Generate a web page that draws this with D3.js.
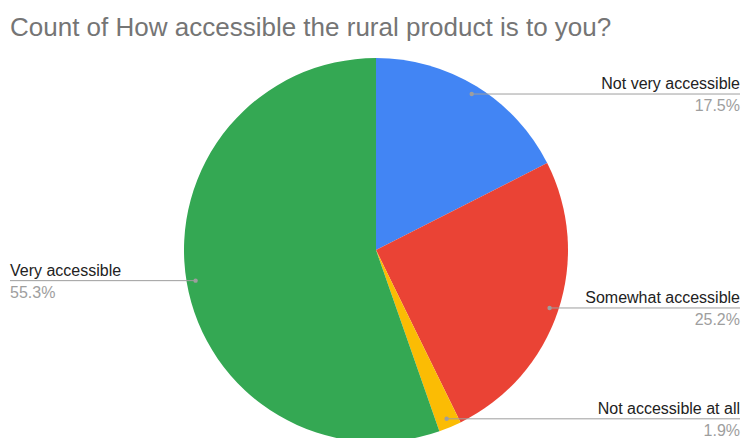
<!DOCTYPE html>
<html><head><meta charset="utf-8">
<script src="https://cdn.jsdelivr.net/npm/d3@7"></script>
<style>body{margin:0;background:#fff;}svg{display:block;}</style>
</head><body>
<svg id="c" width="742" height="438"></svg>
<script>
const categories = ["Not very accessible","Somewhat accessible","Not accessible at all","Very accessible"];
const values = [17.5, 25.2, 1.9, 55.3];
const pctLabels = ["17.5%","25.2%","1.9%","55.3%"];
const colors = ["#4285F4","#EA4335","#FBBC04","#34A853"];

const svg = d3.select("#c");
const W = 742, cx = 376, cy = 250, R = 192;
svg.append("rect").attr("width",W).attr("height",438).attr("fill","#fff");
svg.append("text").attr("x",10).attr("y",36).attr("font-family","Arial, 'Liberation Sans', sans-serif")
  .attr("font-size",26).attr("fill","#757575").text("Count of How accessible the rural product is to you?");

const data = categories.map((c,i)=>({c, v:values[i], p:pctLabels[i], col:colors[i]}));
const pie = d3.pie().value(d=>d.v).sort(null);
const arcs = pie(data);
const arc = d3.arc().innerRadius(0).outerRadius(R);
const g = svg.append("g").attr("transform",`translate(${cx},${cy})`);
g.selectAll("path").data(arcs).join("path").attr("d",arc).attr("fill",d=>d.data.col);

const rDot = 183;
const lab = svg.append("g").attr("font-family","Arial, 'Liberation Sans', sans-serif").attr("font-size",16);
arcs.forEach(a=>{
  const m = (a.startAngle+a.endAngle)/2;
  const x = cx + Math.sin(m)*rDot, y = cy - Math.cos(m)*rDot;
  const right = Math.sin(m) > 0;
  const x2 = right ? 740 : 10;
  lab.append("line").attr("x1",x).attr("y1",y).attr("x2",x2).attr("y2",y).attr("stroke","#9e9e9e").attr("stroke-width",1);
  lab.append("circle").attr("cx",x).attr("cy",y).attr("r",2.2).attr("fill","#9e9e9e");
  const anchor = right ? "end" : "start";
  lab.append("text").attr("x",x2).attr("y",y-5).attr("text-anchor",anchor).attr("fill","#222").text(a.data.c);
  lab.append("text").attr("x",x2).attr("y",y+17).attr("text-anchor",anchor).attr("fill","#9e9e9e").text(a.data.p);
});
</script>
</body></html>
